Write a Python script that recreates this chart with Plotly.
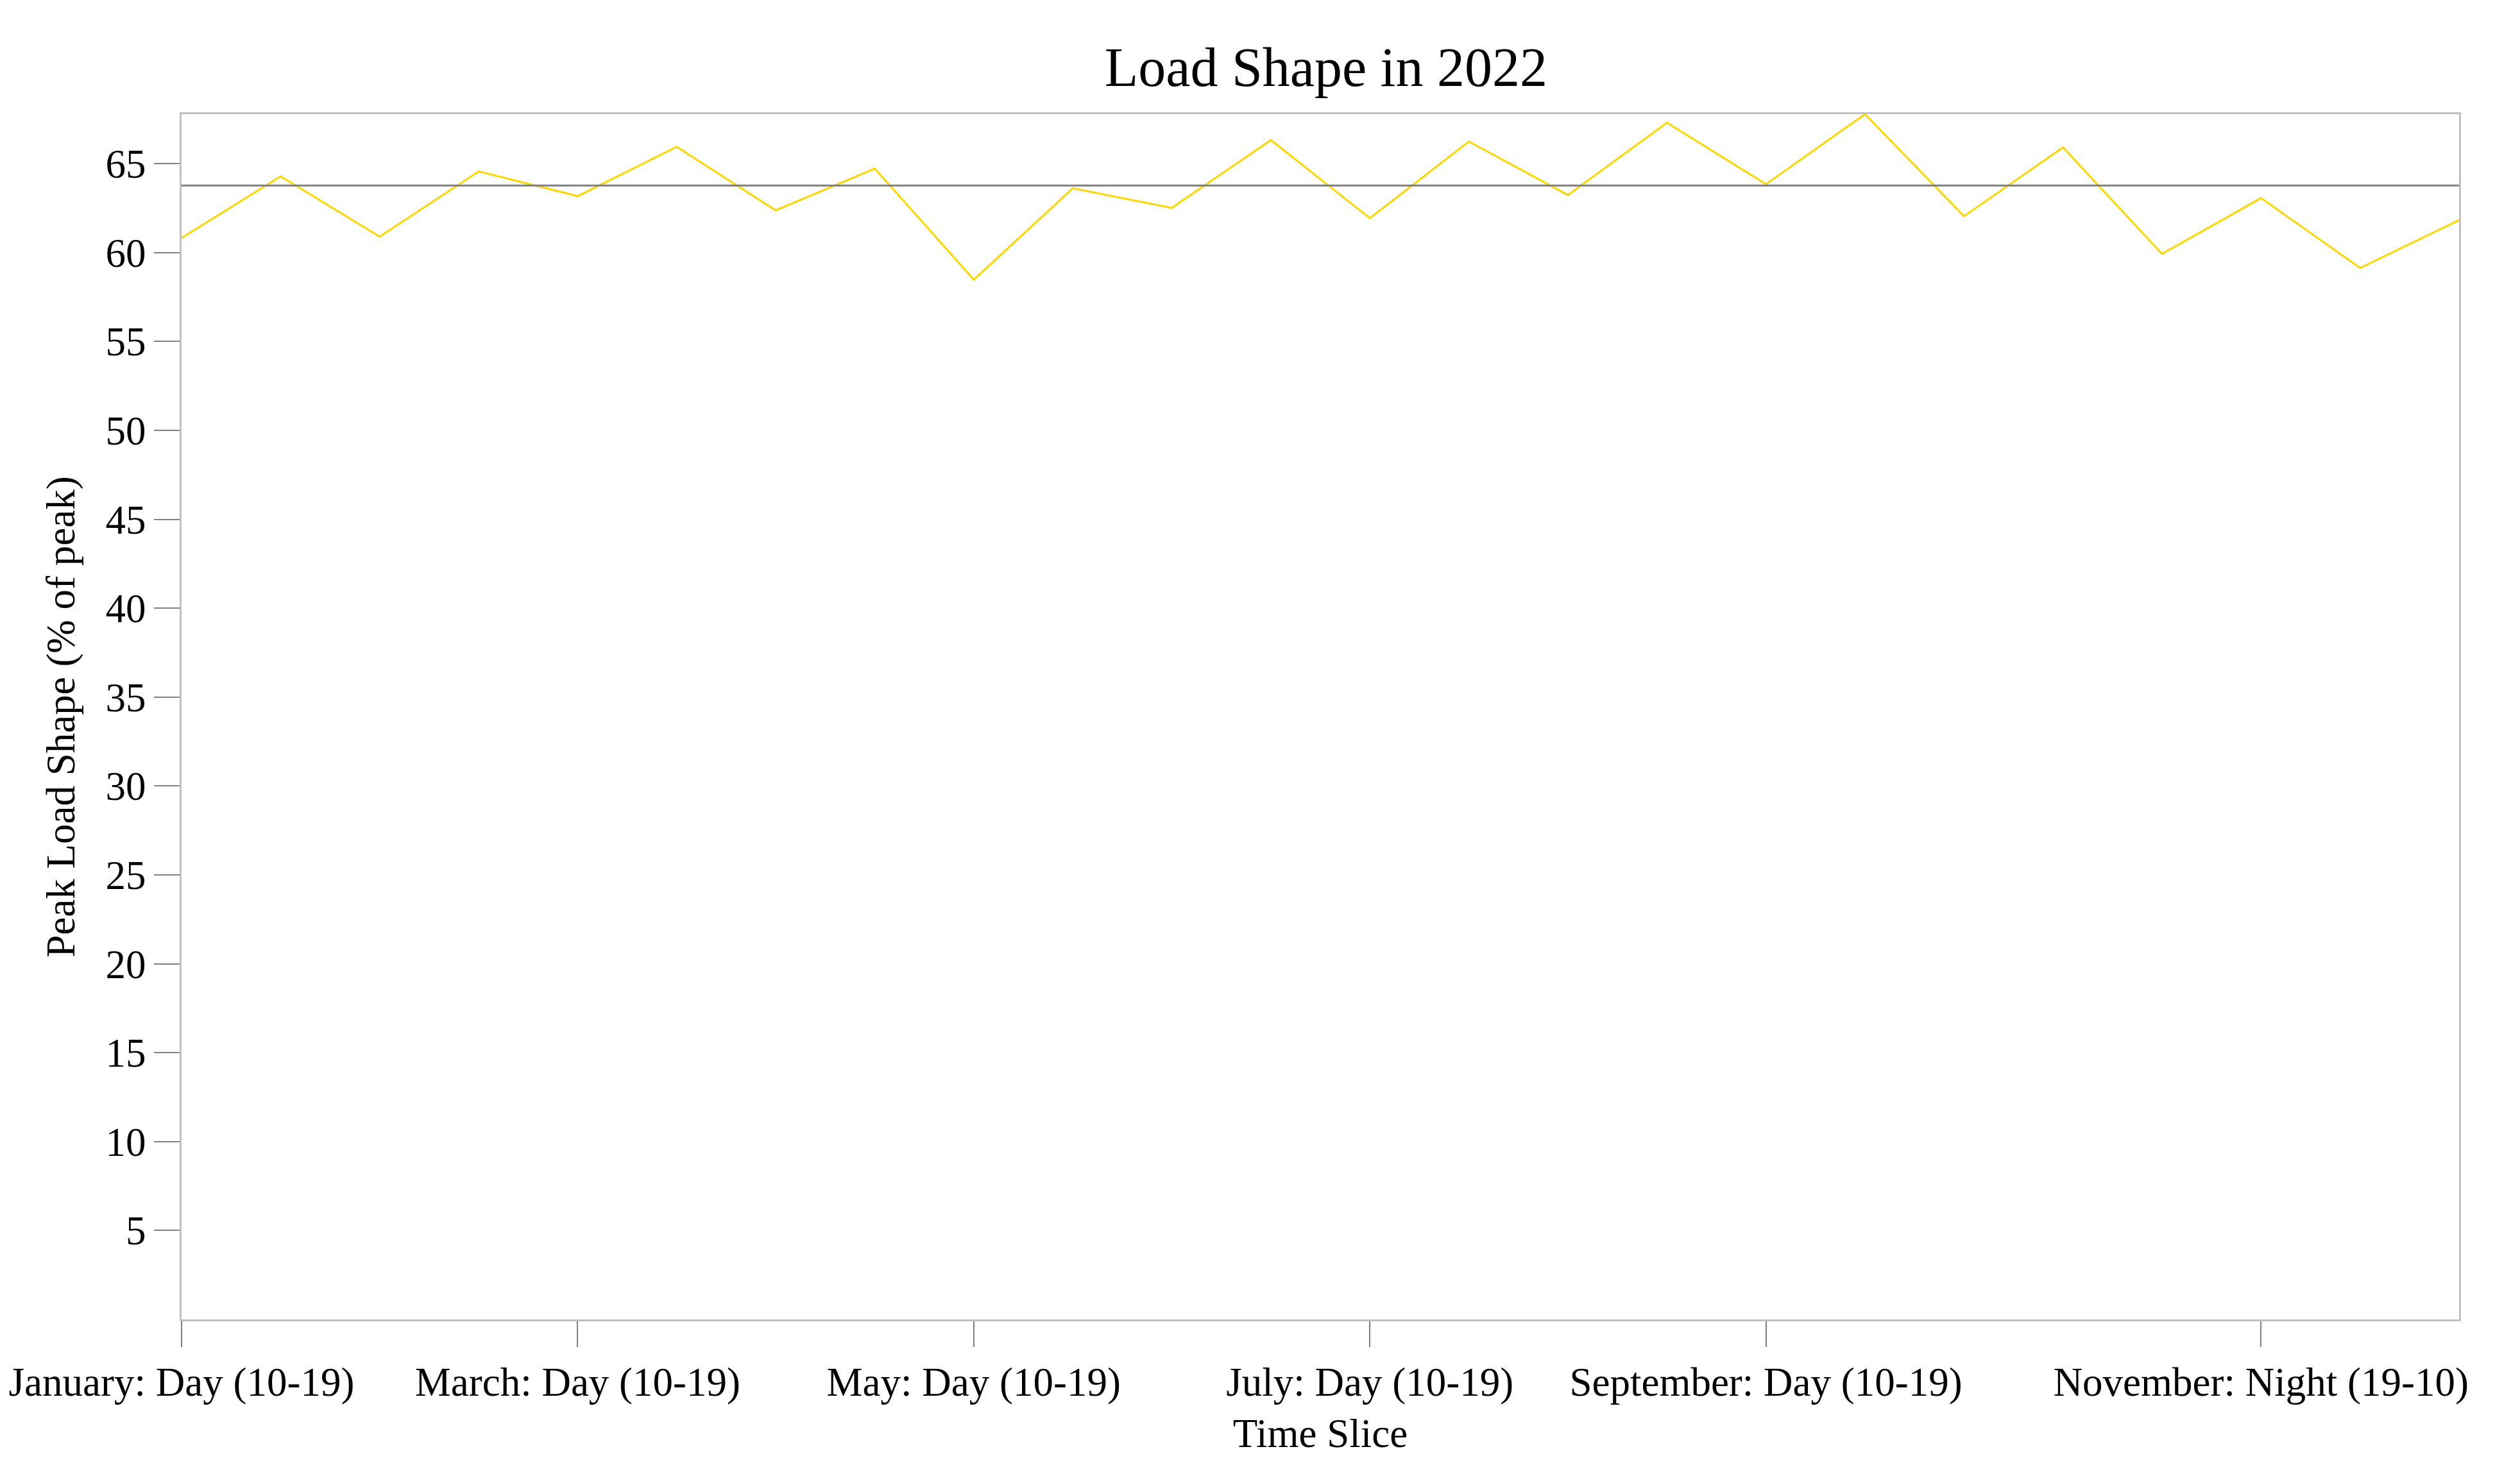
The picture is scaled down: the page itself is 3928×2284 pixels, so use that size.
import plotly.graph_objects as go

months = ["January", "February", "March", "April", "May", "June", "July",
          "August", "September", "October", "November", "December"]
slices = ["Day (10-19)", "Night (19-10)"]
categories = [f"{m}: {s}" for m in months for s in slices]

load_shape = [60.82, 64.28, 60.89, 64.56, 63.17, 65.94, 62.37, 64.72,
              58.47, 63.61, 62.51, 66.32, 61.93, 66.24, 63.23, 67.30,
              63.84, 67.78, 62.04, 65.91, 59.92, 63.06, 59.13, 61.82]
reference_level = 63.77

tick_labels = ["January: Day (10-19)", "March: Day (10-19)", "May: Day (10-19)",
               "July: Day (10-19)", "September: Day (10-19)", "November: Night (19-10)"]
y_ticks = [5, 10, 15, 20, 25, 30, 35, 40, 45, 50, 55, 60, 65]

FONT = "Liberation Serif"

fig = go.Figure()
fig.add_trace(go.Scatter(x=categories, y=load_shape, mode="lines",
                         line=dict(color="#FFD700", width=3), showlegend=False))
fig.add_trace(go.Scatter(x=[categories[0], categories[-1]],
                         y=[reference_level, reference_level], mode="lines",
                         line=dict(color="#808080", width=3), showlegend=False))

fig.update_layout(
    width=3928, height=2284,
    paper_bgcolor="white", plot_bgcolor="white",
    margin=dict(l=275, r=103, t=170, b=235, autoexpand=False),
    font=dict(family=FONT, size=63, color="black"),
    title=dict(text="Load Shape in 2022", xref="paper", x=0.5025, xanchor="center",
               yref="container", y=0.958, yanchor="middle",
               font=dict(family=FONT, size=86, color="black")),
)
fig.update_xaxes(
    type="category", categoryorder="array", categoryarray=categories,
    range=[0, len(categories) - 1], automargin=False,
    tickmode="array", tickvals=tick_labels, ticktext=tick_labels,
    ticks="outside", ticklen=40, tickwidth=2, tickcolor="#808080",
    showline=True, linecolor="#c0c0c0", linewidth=3, mirror=True,
    showgrid=False, zeroline=False,
    title=dict(text="Time Slice", font=dict(family=FONT, size=63), standoff=24),
    tickfont=dict(family=FONT, size=63),
)
fig.update_yaxes(
    range=[0, max(load_shape)], automargin=False,
    tickmode="array", tickvals=y_ticks,
    ticks="outside", ticklen=40, tickwidth=2, tickcolor="#808080",
    showline=True, linecolor="#c0c0c0", linewidth=3, mirror=True,
    showgrid=False, zeroline=False,
    title=dict(text="Peak Load Shape (% of peak)", font=dict(family=FONT, size=63), standoff=28),
    tickfont=dict(family=FONT, size=63),
)

fig.write_html("out.html")
